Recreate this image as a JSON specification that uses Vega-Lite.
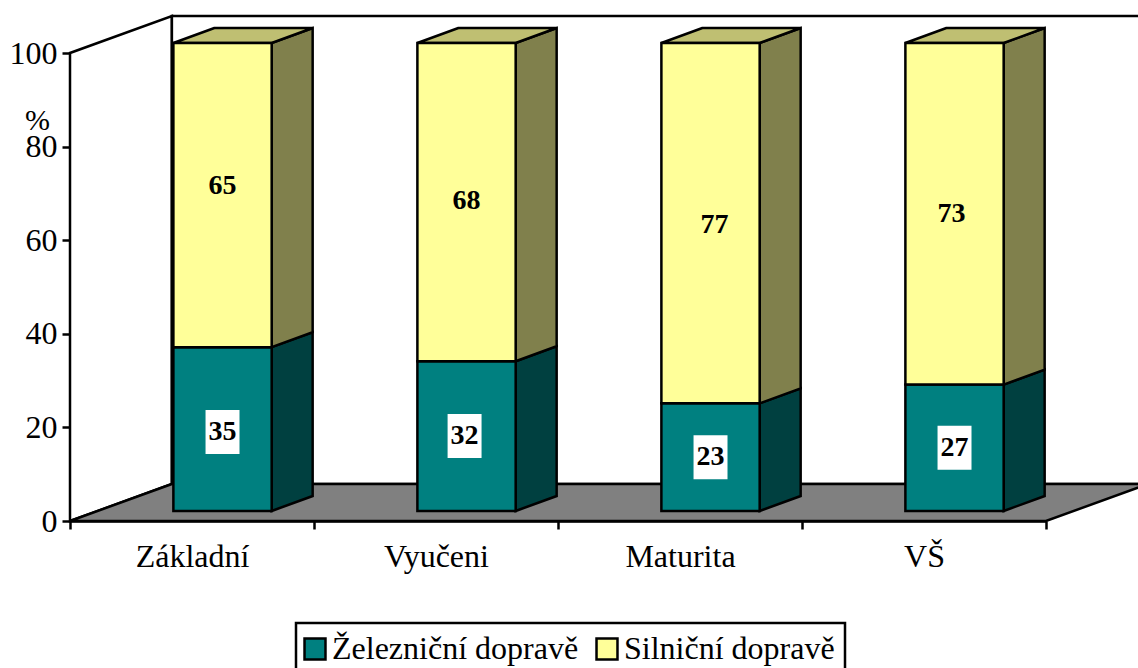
{"$schema":"https://vega.github.io/schema/vega-lite/v6.json","width":976,"height":468,"autosize":"none","padding":{"left":70,"top":53,"right":92,"bottom":147},"background":"white","config":{"view":{"stroke":null},"font":"Liberation Serif","text":{"font":"Liberation Serif"}},"encoding":{"x":{"field":"xa","type":"quantitative","scale":{"domain":[0,4],"nice":false,"zero":false},"axis":{"values":[0,1,2,3,4],"title":null,"grid":false,"labelExpr":"['Základní','Vyučeni','Maturita','VŠ',''][datum.value]","labelOffset":122,"labelFont":"Liberation Serif","labelFontSize":32,"labelColor":"black","labelPadding":12,"labelBound":false,"labelFlush":false,"labelOverlap":false,"tickSize":8,"tickWidth":2.5,"tickColor":"black","domainColor":"black","domainWidth":2.5}},"y":{"field":"ya","type":"quantitative","scale":{"domain":[0,100],"nice":false,"zero":false},"axis":{"values":[0,20,40,60,80,100],"title":"%","titleAngle":0,"titleX":-33,"titleY":82,"titleFont":"Liberation Serif","titleFontSize":30,"titleFontWeight":"normal","titleColor":"black","grid":false,"labelFont":"Liberation Serif","labelFontSize":32,"labelColor":"black","labelPadding":5,"tickSize":8,"tickWidth":2.5,"tickColor":"black","domainColor":"black","domainWidth":2.5}}},"layer":[{"data":{"values":[{"edge":0},{"edge":1}]},"transform":[{"calculate":"0.4176*datum.edge","as":"xa"},{"calculate":"7.9*datum.edge","as":"ya"},{"calculate":"100+7.9*datum.edge","as":"yb"}],"mark":{"type":"area","fill":"white","stroke":"black","strokeWidth":2.5,"clip":false},"encoding":{"y2":{"field":"yb"}}},{"data":{"values":[{"edge":0}]},"transform":[{"calculate":"0.4176","as":"xa"},{"calculate":"4.4176","as":"xb"},{"calculate":"7.9","as":"ya"},{"calculate":"107.9","as":"yb"}],"mark":{"type":"rect","fill":"white","stroke":"black","strokeWidth":2.5},"encoding":{"x2":{"field":"xb"},"y2":{"field":"yb"}}},{"data":{"values":[{"edge":0},{"edge":1}]},"transform":[{"calculate":"0.4176*datum.edge","as":"xa"},{"calculate":"4+0.4176*datum.edge","as":"xb"},{"calculate":"7.9*datum.edge","as":"ya"}],"mark":{"type":"area","orient":"horizontal","fill":"#808080","stroke":"black","strokeWidth":2.5},"encoding":{"x2":{"field":"xb"}}},{"data":{"values":[{"category":"Základní","position":0,"series":"Železniční dopravě","value":35},{"category":"Základní","position":0,"series":"Silniční dopravě","value":65},{"category":"Vyučeni","position":1,"series":"Železniční dopravě","value":32},{"category":"Vyučeni","position":1,"series":"Silniční dopravě","value":68},{"category":"Maturita","position":2,"series":"Železniční dopravě","value":23},{"category":"Maturita","position":2,"series":"Silniční dopravě","value":77},{"category":"VŠ","position":3,"series":"Železniční dopravě","value":27},{"category":"VŠ","position":3,"series":"Silniční dopravě","value":73}]},"transform":[{"stack":"value","groupby":["category"],"sort":[{"field":"series","order":"descending"}],"as":["v0","v1"]},{"calculate":"datum.v0+2.14","as":"lo"},{"calculate":"datum.v1+2.14","as":"hi"},{"calculate":"datum.position+0.4237","as":"left"},{"calculate":"datum.position+0.8265","as":"right"},{"calculate":"[0,1]","as":"edge"},{"calculate":"(datum.left+datum.right)/2+(datum.value==77?0.0164:datum.value==73?-0.012:datum.value==32?-0.008:0)","as":"cx"},{"calculate":"(datum.lo+datum.hi)/2+(datum.value==65?1.9:datum.value==35?-0.64:datum.value==77?-0.43:datum.value==68?0.2:0)","as":"cy"}],"layer":[{"transform":[{"flatten":["edge"]},{"filter":"datum.series=='Železniční dopravě'"},{"calculate":"datum.right+0.168*datum.edge","as":"xa"},{"calculate":"datum.lo+3.2*datum.edge","as":"ya"},{"calculate":"datum.hi+3.2*datum.edge","as":"yb"}],"mark":{"type":"area","fill":"#004040","stroke":"black","strokeWidth":2.5},"encoding":{"y2":{"field":"yb"},"detail":{"field":"category"}}},{"transform":[{"flatten":["edge"]},{"filter":"datum.series=='Silniční dopravě'"},{"calculate":"datum.right+0.168*datum.edge","as":"xa"},{"calculate":"datum.lo+3.2*datum.edge","as":"ya"},{"calculate":"datum.hi+3.2*datum.edge","as":"yb"}],"mark":{"type":"area","fill":"#80804C","stroke":"black","strokeWidth":2.5},"encoding":{"y2":{"field":"yb"},"detail":{"field":"category"}}},{"transform":[{"flatten":["edge"]},{"filter":"datum.series=='Silniční dopravě'"},{"calculate":"datum.left+0.168*datum.edge","as":"xa"},{"calculate":"datum.right+0.168*datum.edge","as":"xb"},{"calculate":"datum.hi+3.2*datum.edge","as":"ya"}],"mark":{"type":"area","orient":"horizontal","fill":"#BFBF72","stroke":"black","strokeWidth":2.5},"encoding":{"x2":{"field":"xb"},"detail":{"field":"category"}}},{"transform":[{"calculate":"datum.left","as":"xa"},{"calculate":"datum.right","as":"xb"},{"calculate":"datum.lo","as":"ya"},{"calculate":"datum.hi","as":"yb"}],"mark":{"type":"rect","stroke":"black","strokeWidth":2.5},"encoding":{"x2":{"field":"xb"},"y2":{"field":"yb"},"color":{"field":"series","type":"nominal","scale":{"domain":["Železniční dopravě","Silniční dopravě"],"range":["#008080","#FFFF99"]},"legend":{"title":null,"orient":"none","legendX":226,"legendY":570,"direction":"horizontal","fillColor":"white","strokeColor":"black","padding":10,"symbolType":"square","symbolSize":440,"symbolOffset":-7,"symbolStrokeWidth":2.5,"symbolStrokeColor":"black","symbolOpacity":1,"labelFont":"Liberation Serif","labelFontSize":32,"labelColor":"black","labelOffset":1,"columnPadding":12,"labelLimit":400,"encode":{"legend":{"update":{"strokeWidth":{"value":2.5}}}}}}}},{"transform":[{"filter":"datum.series=='Železniční dopravě'"},{"calculate":"datum.cx-0.0696","as":"xa"},{"calculate":"datum.cx+0.0696","as":"xb"},{"calculate":"datum.cy-4.7","as":"ya"},{"calculate":"datum.cy+4.7","as":"yb"}],"mark":{"type":"rect","fill":"white"},"encoding":{"x2":{"field":"xb"},"y2":{"field":"yb"}}},{"transform":[{"calculate":"datum.cx","as":"xa"},{"calculate":"datum.cy","as":"ya"}],"mark":{"type":"text","fontWeight":"bold","fontSize":28,"font":"Liberation Serif","color":"black","baseline":"middle"},"encoding":{"text":{"field":"value","type":"quantitative"}}}]}]}
